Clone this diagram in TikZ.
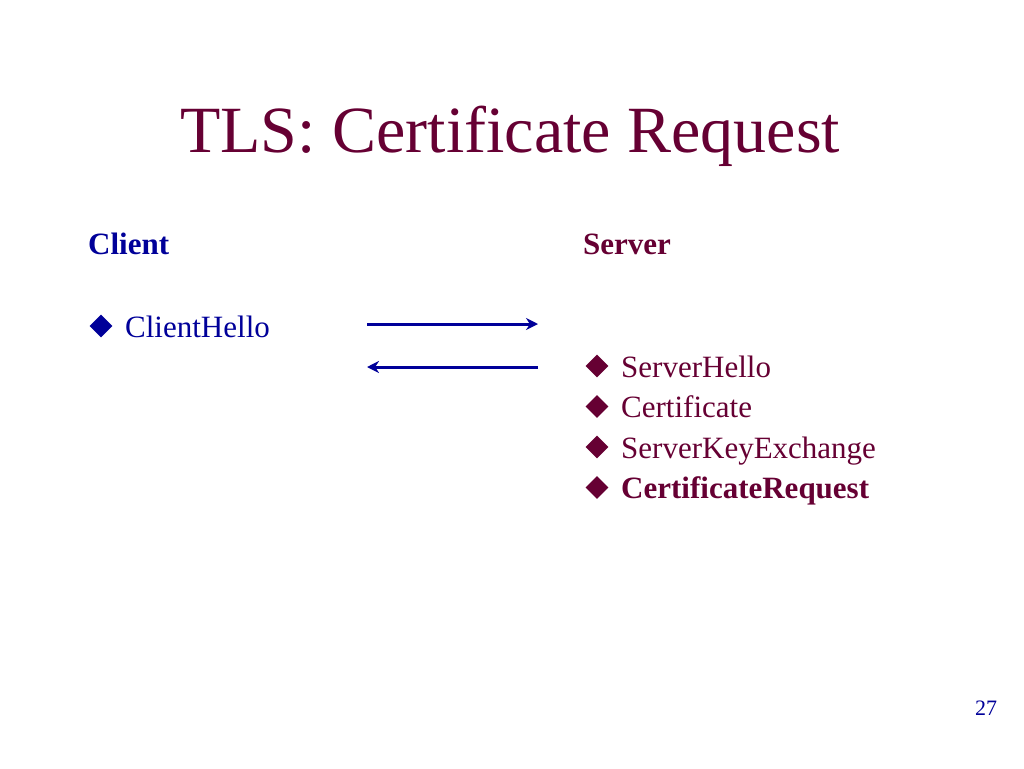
\documentclass[tikz,border=0pt]{standalone}
\usepackage{fontspec}
\setmainfont{Liberation Serif}
\usepackage{xcolor}
\usetikzlibrary{shapes.geometric, arrows.meta}

\definecolor{maroon}{RGB}{102,0,51}
\definecolor{navy}{RGB}{0,0,153}

\tikzset{
	item/.style = {anchor = base west, inner sep = 0pt, font = \fontsize{31}{37}\selectfont},
	bullet/.style = {diamond, fill, inner sep = 0pt, minimum size = 23pt},
	msg/.style = {draw = navy, line width = 3pt, -{Stealth[length = 12pt, width = 12pt]}},
}

\begin{document}
\begin{tikzpicture}[x = 1pt, y = -1pt]
			\useasboundingbox (0,0) rectangle (1024,768);
			
			\node [anchor = base west, inner sep = 0pt, text = maroon, font = \fontsize{66}{72}\selectfont]
				(title) at (180,152) {TLS: Certificate Request};
			
			% client side
			\node [item, text = navy] (client) at (88,254) {\textbf{Client}};
			\node [bullet, fill = navy] (cdot) at (101,326) {};
			\node [item, text = navy] (chello) at (125,337) {ClientHello};
			
			% server side
			\node [item, text = maroon] (server) at (583,254) {\textbf{Server}};
			\foreach \name/\txt [count = \i] in {shello/ServerHello, cert/Certificate, kex/ServerKeyExchange, req/\textbf{CertificateRequest}}
			{
				\node [bullet, fill = maroon] (\name dot) at (597,366 + 40.5*\i - 40.5) {};
				\node [item, text = maroon] (\name) at (621,377 + 40.5*\i - 40.5) {\txt};
			}
			
			% messages
			\coordinate (out1) at (367,324);
			\coordinate (in1) at (538,324);
			\coordinate (out2) at (538,367);
			\coordinate (in2) at (367,367);
			\draw [msg] (out1) -- (in1);
			\draw [msg] (out2) -- (in2);
			
			\node [anchor = base west, inner sep = 0pt, text = navy, font = \fontsize{22}{26}\selectfont]
				(page) at (975,715) {27};
		\end{tikzpicture}
\end{document}
